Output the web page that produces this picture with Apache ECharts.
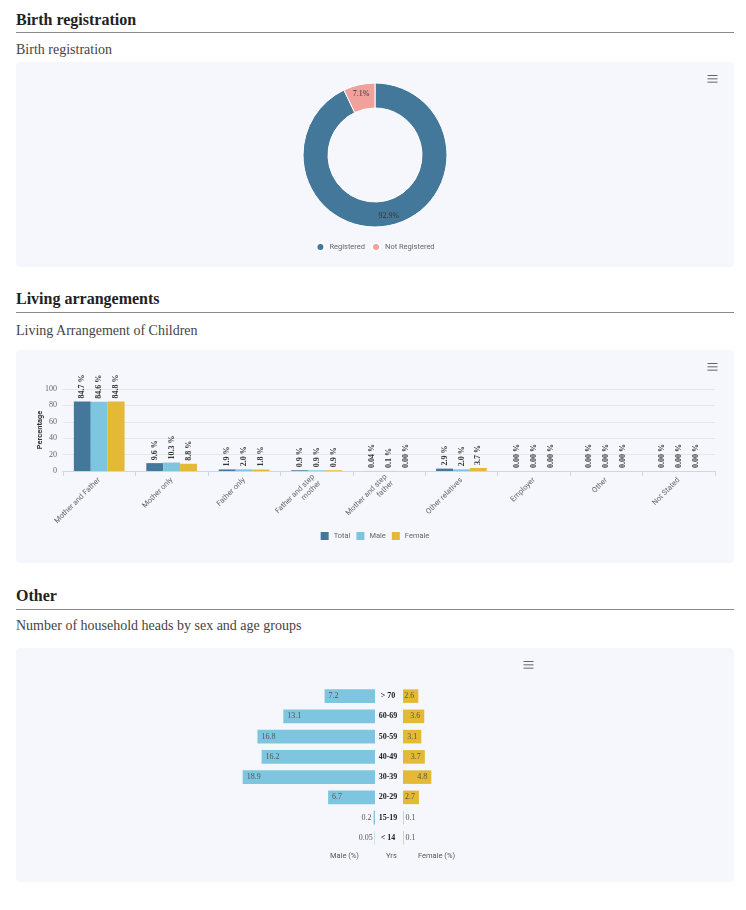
<!DOCTYPE html>
<html lang="en">
<head>
  <meta charset="utf-8">
  <title>Children and households</title>
  <style>
    body { margin: 0; background: #fff; font-family: "Liberation Serif", serif; }
    .h2 { position: absolute; left: 16px; font-size: 16px; line-height: 20px; font-weight: bold; color: #222; }
    .hr { position: absolute; left: 16px; width: 718px; height: 1px; background: #8a8a8a; }
    .h4 { position: absolute; left: 16px; font-size: 14px; line-height: 18px; color: #444; }
    .card { position: absolute; left: 16px; width: 718px; background: #f5f7fc; border-radius: 4px; }
  </style>
</head>
<body>
<script src="https://cdn.jsdelivr.net/npm/echarts@6/dist/echarts.min.js"></script>

<div class="h2" style="top:10px">Birth registration</div>
<div class="hr" style="top:32px"></div>
<div class="h4" style="top:41px">Birth registration</div>
<div class="card" id="chart1" style="top:62px;height:205px"></div>

<div class="h2" style="top:289px">Living arrangements</div>
<div class="hr" style="top:312px"></div>
<div class="h4" style="top:322px">Living Arrangement of Children</div>
<div class="card" id="chart2" style="top:350px;height:213px"></div>

<div class="h2" style="top:586px">Other</div>
<div class="hr" style="top:609px"></div>
<div class="h4" style="top:617px">Number of household heads by sex and age groups</div>
<div class="card" id="chart3" style="top:648px;height:234px"></div>

<script>
  // birth registration
  var regNames = ['Registered', 'Not Registered'];
  var regValues = [92.9, 7.1];

  // living arrangements
  var livingCats = ['Mother and Father', 'Mother only', 'Father only', 'Father and step\nmother',
    'Mother and step\nfather', 'Other relatives', 'Employer', 'Other', 'Not Stated'];
  var livingTotal = [84.7, 9.6, 1.9, 0.9, 0.04, 2.9, 0, 0, 0];
  var livingMale = [84.6, 10.3, 2.0, 0.9, 0.1, 2.0, 0, 0, 0];
  var livingFemale = [84.8, 8.8, 1.8, 0.9, 0, 3.7, 0, 0, 0];

  // household heads, top to bottom
  var ageGroups = ['> 70', '60-69', '50-59', '40-49', '30-39', '20-29', '15-19', '< 14'];
  var headsMale = [7.2, 13.1, 16.8, 16.2, 18.9, 6.7, 0.2, 0.05];
  var headsFemale = [2.6, 3.6, 3.1, 3.7, 4.8, 2.7, 0.1, 0.1];

  var cBlue = '#44789a', cLight = '#7ec6df', cGold = '#e4b935', cPink = '#f0a19b';
  var sans = 'Roboto, sans-serif', serif = '"Liberation Serif", serif';

  var menuTool = function (right, top) {
    return {
      right: right, top: top, itemSize: 10, padding: 0,
      iconStyle: { borderColor: '#666', borderWidth: 1 },
      feature: { myMenu: { show: true, title: '', icon: 'path://M0,0L12,0M0,4L12,4M0,8L12,8', onclick: function () {} } }
    };
  };

  var chart1 = echarts.init(document.getElementById('chart1'));
  chart1.setOption({
    animation: false,
    toolbox: menuTool(14, 11),
    legend: {
      bottom: 10, left: 'center', icon: 'circle', itemWidth: 8, itemHeight: 8, itemGap: 6,
      textStyle: { fontFamily: sans, fontSize: 7.5, color: '#666' }
    },
    series: [{
      type: 'pie',
      center: [359, 93],
      radius: [47, 72],
      itemStyle: { borderColor: '#fff', borderWidth: 1 },
      label: { position: 'inside', formatter: '{c}%', fontFamily: serif, fontSize: 8, color: '#333' },
      color: [cBlue, cPink],
      data: regNames.map(function (n, i) { return { name: n, value: regValues[i] }; })
    }]
  });

  var barLabel = {
    show: true, position: 'top', rotate: 90, align: 'left', verticalAlign: 'middle', distance: 3,
    fontFamily: serif, fontSize: 8, fontWeight: 'bold', color: '#333',
    formatter: function (p) {
      var v = p.value;
      return (v === 0 ? '0.00' : (v < 0.1 ? v.toFixed(2) : v.toFixed(1))) + ' %';
    }
  };
  function barSeries(name, data, color) {
    return { name: name, type: 'bar', data: data, barGap: 0, barCategoryGap: '30%', itemStyle: { color: color }, label: barLabel };
  }

  var chart2 = echarts.init(document.getElementById('chart2'));
  chart2.setOption({
    animation: false,
    toolbox: menuTool(14, 11),
    grid: { left: 47, right: 19, top: 39, bottom: 92 },
    legend: {
      top: 177, left: 'center', icon: 'rect', itemWidth: 8, itemHeight: 8, itemGap: 6,
      textStyle: { fontFamily: sans, fontSize: 7.5, color: '#666' }
    },
    xAxis: {
      type: 'category', data: livingCats,
      axisLine: { lineStyle: { color: '#ccd6eb' } },
      axisTick: { show: true, lineStyle: { color: '#ccd6eb' } },
      axisLabel: { rotate: 45, interval: 0, fontFamily: sans, fontSize: 7.5, color: '#666', lineHeight: 9 }
    },
    yAxis: {
      type: 'value', min: 0, max: 100, interval: 20,
      name: 'Percentage', nameLocation: 'middle', nameGap: 19, nameMoveOverlap: false,
      nameTextStyle: { fontFamily: sans, fontSize: 7.5, color: '#333', fontWeight: 'bold' },
      axisLabel: { fontFamily: serif, fontSize: 8, color: '#666', margin: 6 },
      splitLine: { lineStyle: { color: '#e6e6e6' } }
    },
    series: [
      barSeries('Total', livingTotal, cBlue),
      barSeries('Male', livingMale, cLight),
      barSeries('Female', livingFemale, cGold)
    ]
  });

  var pyrLabel = { show: true, fontFamily: serif, fontSize: 8, color: '#555', distance: 4 };
  var chart3 = echarts.init(document.getElementById('chart3'));
  chart3.setOption({
    animation: false,
    toolbox: menuTool(198, 11),
    grid: [
      { left: 219, width: 140, top: 38, bottom: 34 },
      { left: 387, width: 118, top: 38, bottom: 34 }
    ],
    xAxis: [
      { type: 'value', gridIndex: 0, min: 0, max: 20, inverse: true, show: false },
      { type: 'value', gridIndex: 1, min: 0, max: 20, show: false }
    ],
    yAxis: [
      { type: 'category', gridIndex: 0, data: ageGroups, inverse: true, show: false },
      {
        type: 'category', gridIndex: 1, data: ageGroups, inverse: true,
        axisLine: { show: false }, axisTick: { show: false },
        axisLabel: { align: 'center', margin: 15, fontFamily: serif, fontSize: 8, fontWeight: 'bold', color: '#222' }
      }
    ],
    graphic: [
      { type: 'text', left: 314, top: 204, style: { text: 'Male (%)', font: '7.5px Roboto', fill: '#555' } },
      { type: 'text', left: 370, top: 204, style: { text: 'Yrs', font: '7.5px Roboto', fill: '#555' } },
      { type: 'text', left: 402, top: 204, style: { text: 'Female (%)', font: '7.5px Roboto', fill: '#555' } }
    ],
    series: [
      {
        name: 'Male', type: 'bar', xAxisIndex: 0, yAxisIndex: 0, barCategoryGap: '33%',
        itemStyle: { color: cLight }, label: pyrLabel,
        data: headsMale.map(function (v) { return { value: v, label: { position: v < 1 ? 'left' : 'insideLeft', distance: v < 1 ? 2 : 4 } }; })
      },
      {
        name: 'Female', type: 'bar', xAxisIndex: 1, yAxisIndex: 1, barCategoryGap: '33%',
        itemStyle: { color: cGold }, label: pyrLabel,
        data: headsFemale.map(function (v) { return { value: v, label: { position: v < 1 ? 'right' : 'insideRight', distance: v < 1 ? 2 : 4 } }; })
      }
    ]
  });
</script>
</body>
</html>
